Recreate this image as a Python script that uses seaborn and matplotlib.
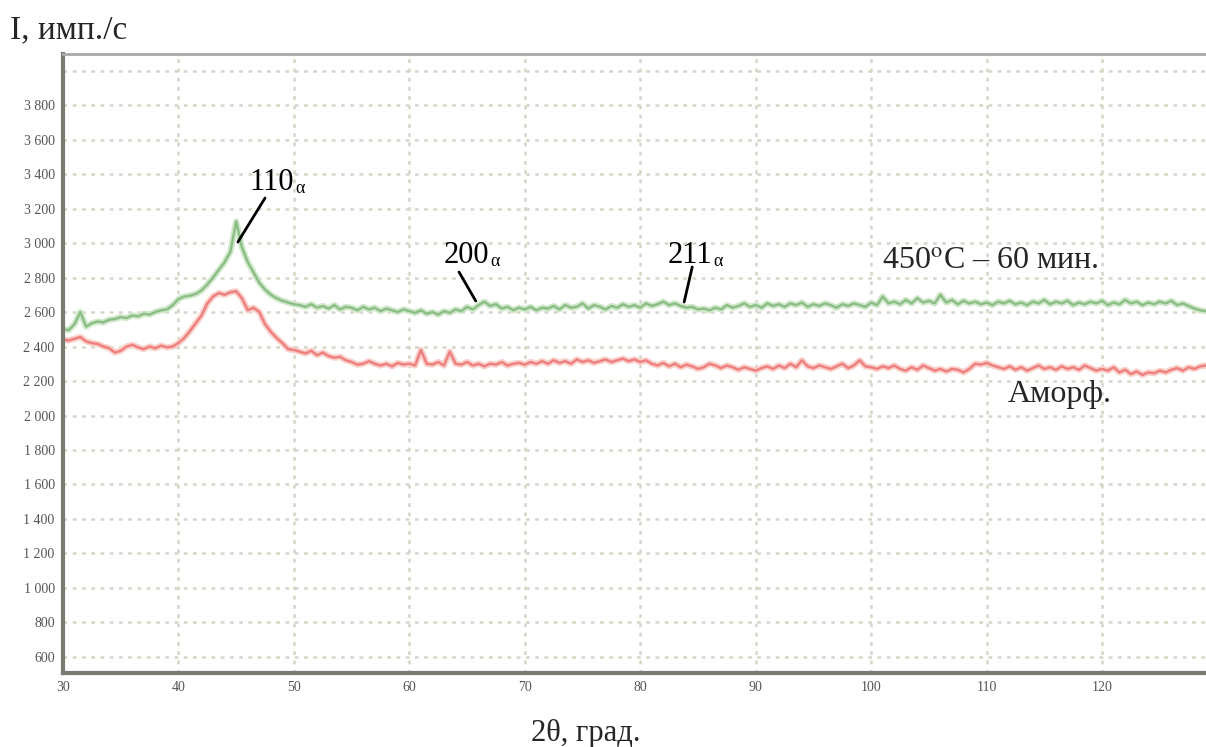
import numpy as np
import pandas as pd
import matplotlib
matplotlib.use("Agg")
import matplotlib.pyplot as plt
import seaborn as sns

# 2θ scan grid, degrees (step 0.5)
two_theta = np.arange(30.0, 129.01, 0.5)

# Intensity, counts/s — annealed 450°C, 60 min
annealed = [
    2500, 2495, 2530, 2600, 2515, 2535, 2545, 2540, 2555, 2560, 2570, 2565, 2580, 2575, 2590, 2585, 2600, 2610, 2615, 2640,
    2675, 2690, 2695, 2705, 2725, 2760, 2800, 2845, 2890, 2950, 3125, 2975, 2890, 2830, 2770, 2730, 2700, 2680, 2665, 2655,
    2645, 2640, 2630, 2645, 2625, 2635, 2620, 2640, 2615, 2630, 2625, 2610, 2630, 2615, 2625, 2605, 2620, 2610, 2600, 2615,
    2605, 2595, 2610, 2590, 2600, 2585, 2605, 2595, 2615, 2605, 2630, 2615, 2640, 2660, 2635, 2645, 2620, 2630, 2610, 2625,
    2615, 2630, 2610, 2625, 2620, 2635, 2615, 2640, 2625, 2630, 2650, 2620, 2640, 2630, 2615, 2635, 2625, 2645, 2630, 2640,
    2625, 2650, 2635, 2645, 2660, 2640, 2650, 2635, 2625, 2630, 2615, 2620, 2610, 2625, 2615, 2640, 2625, 2635, 2650, 2630,
    2640, 2625, 2650, 2635, 2645, 2630, 2650, 2640, 2655, 2630, 2645, 2635, 2650, 2640, 2625, 2645, 2635, 2650, 2640, 2630,
    2655, 2640, 2690, 2650, 2660, 2645, 2670, 2650, 2680, 2655, 2665, 2650, 2700, 2655, 2670, 2645, 2665, 2650, 2660, 2645,
    2655, 2640, 2660, 2650, 2665, 2645, 2655, 2640, 2660, 2650, 2670, 2645, 2660, 2650, 2665, 2640, 2655, 2645, 2660, 2650,
    2665, 2640, 2655, 2645, 2670, 2650, 2660, 2640, 2655, 2645, 2660, 2650, 2665, 2640, 2650, 2635, 2620, 2610, 2605,
]

# Intensity, counts/s — amorphous state
amorphous = [
    2440, 2435, 2445, 2455, 2430, 2420, 2415, 2400, 2390, 2365, 2375, 2400, 2410, 2395, 2385, 2400, 2390, 2405, 2395, 2400,
    2420, 2450, 2490, 2535, 2580, 2650, 2690, 2710, 2700, 2715, 2720, 2680, 2610, 2625, 2600, 2530, 2485, 2450, 2420, 2385,
    2380, 2370, 2360, 2375, 2350, 2365, 2345, 2335, 2340, 2320, 2310, 2295, 2300, 2315, 2300, 2290, 2300, 2285, 2305, 2295,
    2300, 2290, 2380, 2300, 2295, 2310, 2290, 2370, 2300, 2295, 2310, 2290, 2300, 2285, 2300, 2295, 2310, 2290, 2300, 2305,
    2295, 2310, 2300, 2315, 2300, 2320, 2305, 2315, 2300, 2325, 2310, 2320, 2305, 2315, 2325, 2310, 2320, 2330, 2315, 2325,
    2310, 2320, 2300, 2290, 2305, 2285, 2300, 2280, 2295, 2285, 2270, 2280, 2300, 2290, 2275, 2290, 2280, 2265, 2280, 2270,
    2260, 2275, 2285, 2270, 2290, 2275, 2300, 2280, 2320, 2285, 2275, 2290, 2280, 2270, 2285, 2300, 2275, 2290, 2320, 2285,
    2280, 2270, 2285, 2275, 2290, 2270, 2260, 2280, 2265, 2290, 2275, 2260, 2270, 2255, 2270, 2265, 2250, 2270, 2300, 2295,
    2305, 2290, 2280, 2270, 2285, 2265, 2280, 2260, 2275, 2290, 2270, 2280, 2265, 2285, 2270, 2280, 2265, 2290, 2275, 2260,
    2270, 2260, 2280, 2250, 2265, 2240, 2255, 2235, 2250, 2245, 2260, 2250, 2265, 2275, 2260, 2280, 2270, 2285, 2290,
]

x_ticks = [30, 40, 50, 60, 70, 80, 90, 100, 110, 120]
y_ticks = list(range(600, 4001, 200))

# Peak labels: Miller indices, label centre, leader line (start -> point on curve)
peak_hkl = ["110", "200", "211"]
peak_text_xy = [(48.1, 3350), (64.9, 2930), (84.3, 2930)]
peak_line_from = [(47.5, 3261), (64.3, 2832), (84.5, 2861)]
peak_line_to = [(45.15, 3006), (65.75, 2664), (83.8, 2658)]

sns.set_style("white")
plt.rcParams["font.family"] = ["Liberation Serif", "DejaVu Serif"]
plt.rcParams["mathtext.fontset"] = "stix"

fig = plt.figure(figsize=(12.06, 7.47), dpi=100)
ax = fig.add_axes([63 / 1206, 1 - 673 / 747, (1206 - 63) / 1206, (673 - 54) / 747])

df = pd.DataFrame({"two_theta": two_theta, "annealed": annealed, "amorphous": amorphous})

# soft halo under each trace, then the trace itself
sns.lineplot(data=df, x="two_theta", y="annealed", ax=ax, color="#d2e8cd", lw=4.5)
sns.lineplot(data=df, x="two_theta", y="amorphous", ax=ax, color="#f9d0ca", lw=4.5)
sns.lineplot(data=df, x="two_theta", y="annealed", ax=ax, color="#8cbf85", lw=1.8)
sns.lineplot(data=df, x="two_theta", y="amorphous", ax=ax, color="#ef8080", lw=1.8)

ax.set_xlim(30, 129)
ax.set_ylim(507, 4096)
ax.set_xticks(x_ticks)
ax.set_xticklabels([str(v) for v in x_ticks])
ax.set_yticks(y_ticks)
ax.set_yticklabels([("" if v == 4000 else f"{v:,}".replace(",", " ")) for v in y_ticks])
ax.tick_params(axis="both", labelsize=10, labelcolor="#555555", length=2, width=1,
               color="#9a9a9a", pad=4)
ax.set_xlabel("")
ax.set_ylabel("")

ax.grid(True, color="#d6d6c8", linestyle=(0, (1.5, 2.2)), lw=1.8)
ax.set_axisbelow(True)

for side in ("left", "bottom"):
    ax.spines[side].set_color("#7a7a74")
    ax.spines[side].set_linewidth(3)
ax.spines["top"].set_color("#a8a8a4")
ax.spines["top"].set_linewidth(2)
ax.spines["right"].set_visible(False)

for hkl, txy, p0, p1 in zip(peak_hkl, peak_text_xy, peak_line_from, peak_line_to):
    t = ax.text(txy[0], txy[1], hkl, fontsize=22, ha="center", va="center", color="black")
    ax.annotate("α", xy=(1.0, 0.0), xycoords=t, xytext=(1, 0), textcoords="offset points",
                fontsize=13, ha="left", va="bottom", color="black")
    ax.annotate("", xy=p1, xytext=p0,
                arrowprops=dict(arrowstyle="-", color="black", lw=2, shrinkA=0, shrinkB=0))

ax.text(100.9, 2895, r"450$^{\mathrm{o}}$C – 60 мин.", fontsize=23, ha="left", va="center")
ax.text(111.8, 2120, "Аморф.", fontsize=23, ha="left", va="center")

fig.text(10 / 1206, 1 - 30 / 747, "I, имп./с", fontsize=24, ha="left", va="center")
fig.text(586 / 1206, 1 - 733 / 747, "2θ, град.", fontsize=22, ha="center", va="center")

fig.savefig("out.png", dpi=100)
